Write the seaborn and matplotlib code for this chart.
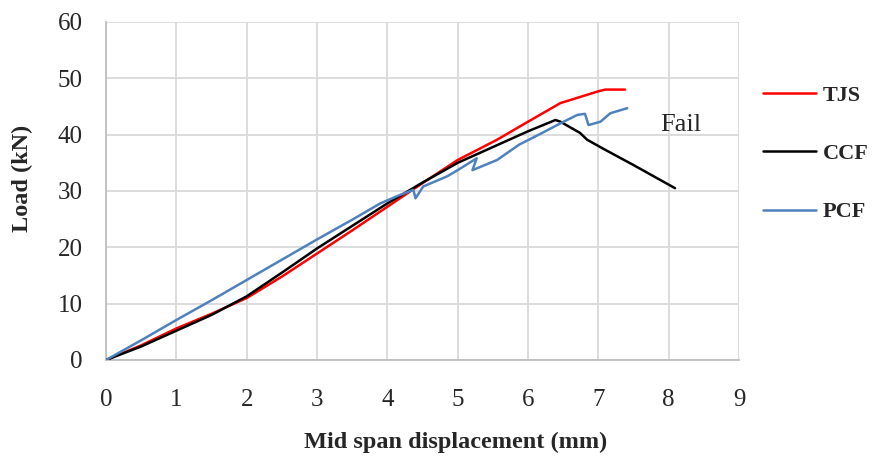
import numpy as np
import pandas as pd
import matplotlib
matplotlib.use("Agg")
import matplotlib.pyplot as plt
import seaborn as sns

# values
tjs_disp = [0, 0.5, 1, 1.5, 2, 2.5, 3, 3.5, 4, 4.5, 5, 5.56, 6, 6.46, 7, 7.1, 7.38]
tjs_load = [0, 2.6, 5.6, 8.2, 11.0, 14.8, 18.9, 23.0, 27.2, 31.4, 35.5, 39.1, 42.3, 45.6, 47.7, 48.0, 48.0]

ccf_disp = [0, 0.5, 1, 1.5, 2, 2.5, 3, 3.5, 4, 4.5, 5, 5.5, 6, 6.39, 6.46, 6.74, 6.84, 7.07, 7.5, 8.09]
ccf_load = [0, 2.4, 5.2, 8.0, 11.3, 15.5, 19.8, 23.8, 27.8, 31.5, 35.0, 37.8, 40.6, 42.6, 42.3, 40.3, 39.1, 37.5, 34.6, 30.5]

pcf_disp = [0, 0.5, 1, 1.5, 2, 2.5, 3, 3.5, 3.9, 4.18, 4.37, 4.4, 4.51, 4.85, 5.0, 5.27, 5.21,
            5.56, 5.87, 6.2, 6.46, 6.7, 6.81, 6.86, 7.03, 7.17, 7.41]
pcf_load = [0, 3.5, 7.1, 10.6, 14.2, 17.8, 21.4, 24.9, 27.8, 29.3, 30.2, 28.7, 30.8, 32.6, 33.7, 35.8, 33.7,
            35.5, 38.2, 40.3, 42.0, 43.5, 43.7, 41.7, 42.3, 43.8, 44.7]

series_names = ["TJS", "CCF", "PCF"]
series_colors = ["#ff0000", "#000000", "#4f81bd"]
x_ticks = list(range(0, 10))
y_ticks = list(range(0, 70, 10))

df = pd.concat([
    pd.DataFrame({"disp": tjs_disp, "load": tjs_load, "series": "TJS"}),
    pd.DataFrame({"disp": ccf_disp, "load": ccf_load, "series": "CCF"}),
    pd.DataFrame({"disp": pcf_disp, "load": pcf_load, "series": "PCF"}),
], ignore_index=True)

sns.set_style("white")
plt.rcParams["font.family"] = ["Liberation Serif", "DejaVu Serif"]

fig = plt.figure(figsize=(8.8, 4.58), dpi=100)
ax = fig.add_axes([0.1205, 0.214, 0.7193, 0.738])

sns.lineplot(data=df, x="disp", y="load", hue="series", hue_order=series_names,
             palette=dict(zip(series_names, series_colors)), sort=False,
             estimator=None, linewidth=1.8, ax=ax, zorder=3)

ax.set_xlim(0, 9)
ax.set_ylim(0, 60)
ax.set_xticks(x_ticks)
ax.set_yticks(y_ticks)
ax.tick_params(axis="both", labelsize=18, length=0)
ax.tick_params(axis="x", pad=21)
ax.tick_params(axis="y", pad=17)
ax.grid(True, color="#d9d9d9", linewidth=1.3)
ax.set_axisbelow(True)
for side in ["top", "right"]:
    ax.spines[side].set_visible(False)
for side in ["left", "bottom"]:
    ax.spines[side].set_color("#bfbfbf")
    ax.spines[side].set_linewidth(1.3)

ax.set_xlabel("Mid span displacement (mm)", fontsize=17.5, fontweight="bold")
ax.set_ylabel("Load (kN)", fontsize=17.5, fontweight="bold")
ax.xaxis.set_label_coords(0.553, -0.212)
ax.yaxis.set_label_coords(-0.115, 0.536)

ax.text(7.88, 41.8, "Fail", fontsize=19, va="center", ha="left")

handles, labels = ax.get_legend_handles_labels()
ax.legend(handles, labels, loc="upper left", bbox_to_anchor=(1.006, 0.872), frameon=False,
          prop={"size": 16, "weight": "bold"}, labelspacing=1.7, handlelength=2.4,
          handletextpad=0.3)

fig.savefig("out.png", dpi=100)
